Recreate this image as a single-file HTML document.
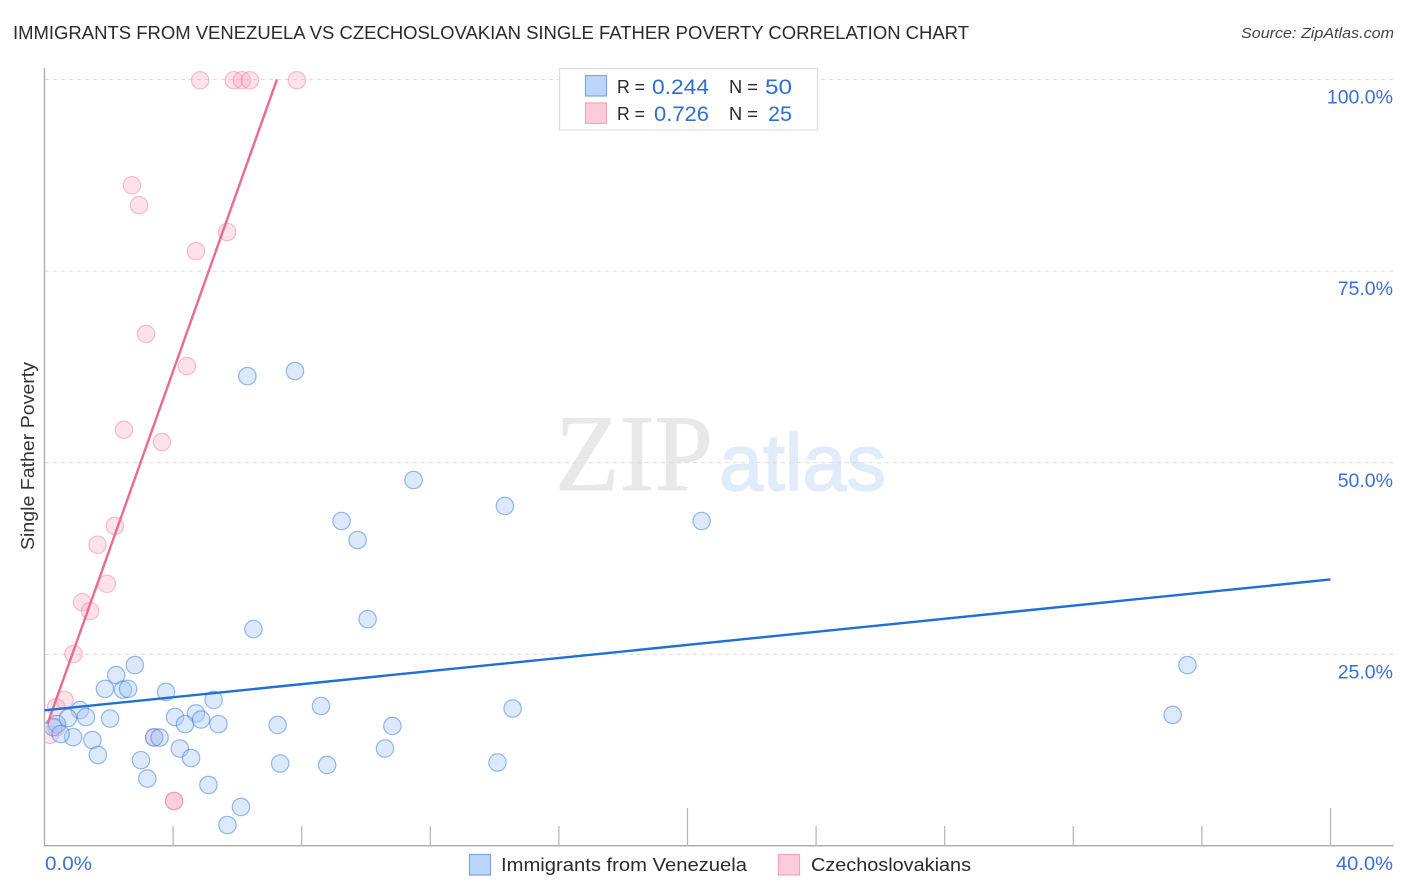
<!DOCTYPE html>
<html lang="en">
<head>
<meta charset="utf-8">
<title>Immigrants from Venezuela vs Czechoslovakian Single Father Poverty Correlation Chart</title>
<style>
html,body{margin:0;padding:0;background:#fff;width:1406px;height:892px;overflow:hidden}
svg{display:block;font-family:"Liberation Sans",sans-serif}
</style>
</head>
<body>
<svg id="chart" xmlns="http://www.w3.org/2000/svg" width="1406" height="892" viewBox="0 0 1406 892">
  <defs>
    <clipPath id="plot-clip"><rect x="45.5" y="60" width="1348" height="786"/></clipPath>
  </defs>
  <rect x="0" y="0" width="1406" height="892" fill="#ffffff"/>
  <text x="13" y="39" font-size="18.5" fill="#2a2a2a" textLength="956" lengthAdjust="spacingAndGlyphs">IMMIGRANTS FROM VENEZUELA VS CZECHOSLOVAKIAN SINGLE FATHER POVERTY CORRELATION CHART</text>
  <text x="1394" y="38" font-size="15" font-style="italic" fill="#444444" text-anchor="end" textLength="153" lengthAdjust="spacingAndGlyphs">Source: ZipAtlas.com</text>
  <g>
    <text x="555" y="490" font-family="'Liberation Serif',serif" font-size="109" fill="#e8e8e8" stroke="#e8e8e8" stroke-width="0.8" textLength="158" lengthAdjust="spacingAndGlyphs">ZIP</text>
    <text x="719" y="490" font-size="80" fill="#e1ebf9" stroke="#e1ebf9" stroke-width="1.5" textLength="167" lengthAdjust="spacingAndGlyphs">atlas</text>
  </g>
  <g id="grid"></g>
  <g id="axes"></g>
  <g id="pink-points" clip-path="url(#plot-clip)"></g>
  <g id="blue-points" clip-path="url(#plot-clip)"></g>
  <g id="trend-lines"></g>
  <text transform="translate(34,456) rotate(-90)" font-size="18" fill="#333333" text-anchor="middle" textLength="188" lengthAdjust="spacingAndGlyphs">Single Father Poverty</text>
  <g id="stats-legend">
    <rect x="559.5" y="68.5" width="258" height="61.5" fill="#ffffff" stroke="#dddddd" stroke-width="1.2"/>
    <rect x="585.5" y="75.5" width="21" height="20.5" fill="#bbd6f8" stroke="#78a6e2" stroke-width="1.2"/>
    <rect x="585.5" y="103" width="21" height="20.5" fill="#fdccdb" stroke="#f3a5bf" stroke-width="1.2"/>
    <text x="617" y="93" font-size="18.5" fill="#2a2a2a" textLength="28" lengthAdjust="spacingAndGlyphs">R =</text>
    <text x="652" y="94" font-size="21" fill="#2f6fd0" textLength="57" lengthAdjust="spacingAndGlyphs">0.244</text>
    <text x="729" y="93" font-size="18.5" fill="#2a2a2a" textLength="29" lengthAdjust="spacingAndGlyphs">N =</text>
    <text x="765" y="94" font-size="21" fill="#2f6fd0" textLength="27" lengthAdjust="spacingAndGlyphs">50</text>
    <text x="617" y="120" font-size="18.5" fill="#2a2a2a" textLength="28" lengthAdjust="spacingAndGlyphs">R =</text>
    <text x="654" y="121" font-size="21" fill="#2f6fd0" textLength="55" lengthAdjust="spacingAndGlyphs">0.726</text>
    <text x="729" y="120" font-size="18.5" fill="#2a2a2a" textLength="29" lengthAdjust="spacingAndGlyphs">N =</text>
    <text x="768" y="121" font-size="21" fill="#2f6fd0" textLength="24" lengthAdjust="spacingAndGlyphs">25</text>
  </g>
  <g id="series-legend">
    <rect x="469.5" y="854.5" width="21" height="20.5" fill="#bbd6f8" stroke="#78a6e2" stroke-width="1.2"/>
    <text x="501" y="871" font-size="18.5" fill="#2a2a2a" textLength="246" lengthAdjust="spacingAndGlyphs">Immigrants from Venezuela</text>
    <rect x="778.5" y="854.5" width="21" height="20.5" fill="#fdccdb" stroke="#f3a5bf" stroke-width="1.2"/>
    <text x="811" y="871" font-size="18.5" fill="#2a2a2a" textLength="160" lengthAdjust="spacingAndGlyphs">Czechoslovakians</text>
  </g>
</svg>
<script>
const yTickValues = [100, 75, 50, 25];
const yTickLabels = ["100.0%", "75.0%", "50.0%", "25.0%"];
const xTickValues = [0, 4, 8, 12, 16, 20, 24, 28, 32, 36, 40];
const xMajorTicks = [20, 40];
const xEndLabels = ["0.0%", "40.0%"];

const venezuelaX = [6.31,7.79,11.48,14.32,20.44,9.24,9.74,10.05,6.5,35.55,35.09,2.81,2.23,1.88,2.44,2.6,3.78,5.26,8.6,14.56,1.1,0.73,1.29,2.04,4.06,4.71,4.37,4.87,5.41,7.25,10.82,0.39,0.27,0.89,0.5,1.49,3.41,3.58,1.66,4.21,4.56,3.0,3.2,7.33,8.79,10.59,14.09,5.1,6.11,5.69];
const venezuelaY = [61.3,61.97,47.75,44.36,42.4,42.4,39.92,29.6,28.3,23.6,17.1,23.6,22.3,20.5,20.4,20.5,20.1,19.05,18.26,17.94,17.74,16.7,16.83,16.63,16.83,17.29,15.9,16.5,15.9,15.79,15.66,15.9,15.5,14.2,14.6,13.83,14.15,14.15,11.87,12.72,11.48,11.2,8.8,10.76,10.57,12.72,10.89,7.96,5.09,2.74];
const czechX = [4.84,5.89,6.14,6.39,7.85,2.72,2.94,5.68,4.71,3.16,4.43,2.47,3.65,2.19,1.65,1.94,1.17,1.42,0.9,0.62,0.36,3.41,4.03,4.03,0.17,0.37];
const czechY = [99.9,99.9,99.9,99.9,99.9,86.2,83.6,80.1,77.6,66.8,62.6,54.3,52.7,41.75,39.3,34.2,31.8,30.66,25.05,19.05,18.1,14.2,5.87,5.87,14.5,15.5];

const venezuelaTrendX = [0, 40];
const venezuelaTrendY = [17.7, 34.77];
const czechTrendX = [0.09, 7.23];
const czechTrendY = [15.9, 100];

const NS = "http://www.w3.org/2000/svg";
function xScale(v) { return 44.5 + v * (1330.5 - 44.5) / 40; }
function yScale(v) { return 846 - v * (846 - 79.5) / 100; }

function make(tag, parentId, attrs, text) {
  const el = document.createElementNS(NS, tag);
  for (const k in attrs) el.setAttribute(k, attrs[k]);
  if (text !== undefined) el.textContent = text;
  document.getElementById(parentId).appendChild(el);
  return el;
}

yTickValues.forEach(function (v, i) {
  const line = make("line", "grid", {x1: 45, x2: 1393, y1: yScale(v), y2: yScale(v), stroke: "#dcdcdc", "stroke-width": 1.1, "stroke-dasharray": "4 4"});
  
  
  const label = make("text", "axes", {x: 1393, y: yScale(v) + 24, "font-size": 19.5, fill: "#3b6fd4", "text-anchor": "end"}, yTickLabels[i]);
  
  
});

const yAxis = make("line", "axes", {x1: 44.5, x2: 44.5, y1: 68, y2: 846, stroke: "#a8a8a8", "stroke-width": 1.3});



const xAxis = make("line", "axes", {x1: 44, x2: 1393.5, y1: 845.7, y2: 845.7, stroke: "#a8a8a8", "stroke-width": 1.3});



xTickValues.forEach(function (v) {
  if (v === 0) return;
  const top = xMajorTicks.indexOf(v) >= 0 ? 808 : 826;
  const tick = make("line", "axes", {x1: xScale(v), x2: xScale(v), y1: top, y2: 846, stroke: "#b4b4b4", "stroke-width": 1.2});
  
  
});

const xLabelStart = make("text", "axes", {x: 45, y: 870, "font-size": 19.5, fill: "#3b6fd4", textLength: 47, lengthAdjust: "spacingAndGlyphs"}, xEndLabels[0]);



const xLabelEnd = make("text", "axes", {x: 1393, y: 870, "font-size": 19.5, fill: "#3b6fd4", "text-anchor": "end", textLength: 57, lengthAdjust: "spacingAndGlyphs"}, xEndLabels[1]);



czechX.forEach(function (v, i) {
  const dot = make("circle", "pink-points", {cx: xScale(v), cy: yScale(czechY[i]), r: 8.7, fill: "rgba(249,168,192,0.33)", stroke: "rgba(235,110,150,0.42)", "stroke-width": 1.2});
  
  
});

venezuelaX.forEach(function (v, i) {
  const dot = make("circle", "blue-points", {cx: xScale(v), cy: yScale(venezuelaY[i]), r: 8.7, fill: "rgba(165,200,245,0.4)", stroke: "rgba(50,120,215,0.5)", "stroke-width": 1.2});
  
  
});

const czechLine = make("line", "trend-lines", {x1: xScale(czechTrendX[0]), y1: yScale(czechTrendY[0]), x2: xScale(czechTrendX[1]), y2: yScale(czechTrendY[1]), stroke: "#e96a94", "stroke-width": 2.4});



const venezuelaLine = make("line", "trend-lines", {x1: xScale(venezuelaTrendX[0]), y1: yScale(venezuelaTrendY[0]), x2: xScale(venezuelaTrendX[1]), y2: yScale(venezuelaTrendY[1]), stroke: "#1f6fd6", "stroke-width": 2.4});


</script>
</body>
</html>
